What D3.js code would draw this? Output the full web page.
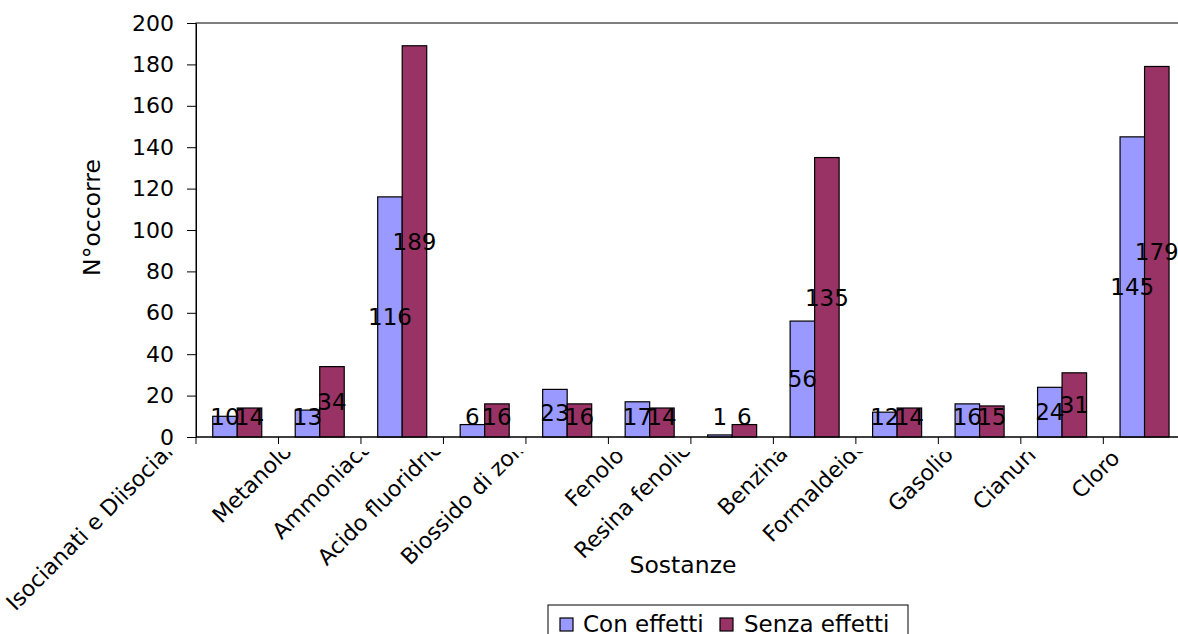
<!DOCTYPE html>
<html>
<head>
<meta charset="utf-8">
<script src="https://cdn.jsdelivr.net/npm/d3@7"></script>
<style>
  html, body { margin: 0; padding: 0; background: #fff; }
  svg { display: block; font-family: "DejaVu Sans", Verdana, sans-serif; }
</style>
</head>
<body>
<svg id="chart" width="1178" height="634"></svg>
<script>
const categories = ["Isocianati e Diisocianati", "Metanolo", "Ammoniaca", "Acido fluoridrico",
  "Biossido di zolfo", "Fenolo", "Resina fenolica", "Benzina", "Formaldeide", "Gasolio", "Cianuri", "Cloro"];
const seriesNames = ["Con effetti", "Senza effetti"];
const conEffetti = [10, 13, 116, 6, 23, 17, 1, 56, 12, 16, 24, 145];
const senzaEffetti = [14, 34, 189, 16, 16, 14, 6, 135, 14, 15, 31, 179];
const yTicks = [0, 20, 40, 60, 80, 100, 120, 140, 160, 180, 200];
const colors = ["#9999FF", "#993366"];

(function () {
const svg = d3.select("#chart");
const pL = 196, pT = 23, pB = 437, pR = 1185.8;

const x = d3.scaleBand().domain(categories).range([pL, pR]).paddingInner(0).paddingOuter(0);
const x1 = d3.scaleBand().domain(seriesNames).range([0, x.bandwidth()]).paddingInner(0).paddingOuter(0.683);
const y = d3.scaleLinear().domain([0, 200]).range([pB, pT]);

const rows = categories.map((c, i) => ({cat: c, vals: [conEffetti[i], senzaEffetti[i]]}));

// plot area border
svg.append("rect").attr("x", pL).attr("y", pT).attr("width", pR - pL).attr("height", pB - pT)
  .attr("fill", "none").attr("stroke", "#000").attr("stroke-width", 1);

// bars
const groups = svg.append("g").selectAll("g").data(rows).join("g")
  .attr("transform", d => `translate(${x(d.cat)},0)`);
groups.selectAll("rect").data(d => d.vals.map((v, j) => ({s: seriesNames[j], v, j}))).join("rect")
  .attr("x", d => x1(d.s))
  .attr("y", d => y(d.v))
  .attr("width", x1.bandwidth())
  .attr("height", d => y(0) - y(d.v))
  .attr("fill", d => colors[d.j])
  .attr("stroke", "#000").attr("stroke-width", 1.2);

// data labels
groups.selectAll("text").data(d => d.vals.map((v, j) => ({s: seriesNames[j], v, j}))).join("text")
  .attr("x", d => x1(d.s) + x1.bandwidth() / 2)
  .attr("y", d => Math.min((y(d.v) + y(0)) / 2, y(0) - 20.5))
  .attr("dy", "0.36em")
  .attr("text-anchor", "middle")
  .attr("font-size", 23)
  .attr("fill", "#000")
  .text(d => d.v);

// y axis
const yAxis = svg.append("g").attr("transform", `translate(${pL},0)`)
  .call(d3.axisLeft(y).tickValues(yTicks).tickSize(9).tickSizeOuter(0).tickPadding(13));
yAxis.select(".domain").attr("stroke", "#000");
yAxis.selectAll(".tick line").attr("stroke", "#000");
yAxis.selectAll(".tick text").attr("font-size", 22).attr("font-family", "DejaVu Sans").attr("fill", "#000");

// x axis line and boundary ticks
svg.append("line").attr("x1", pL).attr("x2", pR).attr("y1", pB).attr("y2", pB).attr("stroke", "#000");
const bounds = categories.map(c => x(c)).concat([x(categories[categories.length - 1]) + x.step()]);
svg.append("g").selectAll("line").data(bounds).join("line")
  .attr("x1", d => d).attr("x2", d => d).attr("y1", pB).attr("y2", pB + 7).attr("stroke", "#000");

// category labels: rotated 45°, placed by their length, clipped just below the axis
const defs = svg.append("defs");
defs.append("clipPath").attr("id", "labclip").append("rect")
  .attr("x", 0).attr("y", 452).attr("width", 1178).attr("height", 634 - 452);
const labLayer = svg.append("g").attr("clip-path", "url(#labclip)");
labLayer.selectAll("text").data(categories).join("text")
  .attr("font-size", 22).attr("fill", "#000").attr("text-anchor", "start")
  .text(d => d)
  .each(function (d) {
    const L = this.getComputedTextLength();
    const cx = x(d) + x.bandwidth() / 2;
    const sx = cx - 19.5 - 0.776 * L;
    const sy = 468.4 + 0.55 * L;
    d3.select(this).attr("transform", `translate(${sx},${sy}) rotate(-45)`);
  });

// axis titles
svg.append("text").attr("transform", "translate(92,217.5) rotate(-90)")
  .attr("text-anchor", "middle").attr("dy", "0.35em").attr("font-size", 23.5).text("N°occorre");
svg.append("text").attr("x", 683).attr("y", 573).attr("text-anchor", "middle").attr("font-size", 23.5).text("Sostanze");

// legend
const leg = svg.append("g");
leg.append("rect").attr("x", 548).attr("y", 605).attr("width", 360).attr("height", 40)
  .attr("fill", "#fff").attr("stroke", "#000").attr("stroke-width", 1);
const legX = [560, 720], legTX = [583, 744];
leg.selectAll("rect.sw").data(seriesNames).join("rect").attr("class", "sw")
  .attr("x", (d, i) => legX[i]).attr("y", 618).attr("width", 13).attr("height", 13)
  .attr("fill", (d, i) => colors[i]).attr("stroke", "#000").attr("stroke-width", 1.2);
leg.selectAll("text").data(seriesNames).join("text")
  .attr("x", (d, i) => legTX[i]).attr("y", 632).attr("font-size", 23).text(d => d);
})();
</script>
</body>
</html>
